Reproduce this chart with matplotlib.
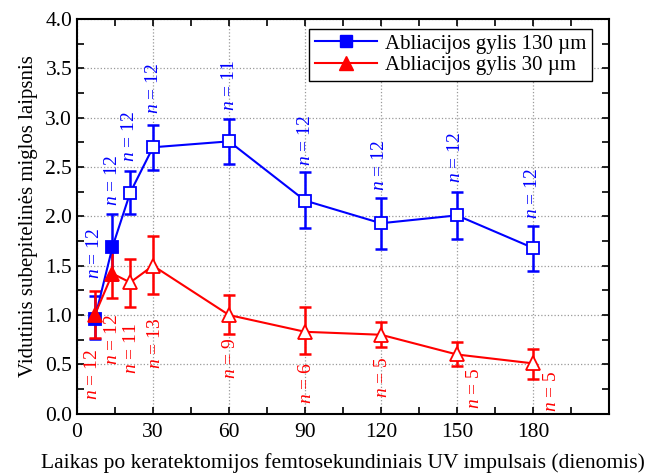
import matplotlib
matplotlib.use("Agg")
import matplotlib.pyplot as plt
from matplotlib.ticker import MultipleLocator

plt.rcParams['font.family'] = ['Liberation Serif', 'DejaVu Serif']
plt.rcParams['mathtext.fontset'] = 'custom'
plt.rcParams['mathtext.it'] = 'Liberation Serif:italic'
plt.rcParams['mathtext.rm'] = 'Liberation Serif'

days = [7, 14, 21, 30, 60, 90, 120, 150, 180]

blue_val = [0.96, 1.69, 2.24, 2.70, 2.76, 2.16, 1.93, 2.01, 1.68]
blue_lo = [0.76, 1.36, 2.02, 2.47, 2.53, 1.88, 1.67, 1.77, 1.45]
blue_hi = [1.19, 2.02, 2.46, 2.93, 2.99, 2.45, 2.19, 2.25, 1.90]
blue_n = [12, 12, 12, 12, 11, 12, 12, 12, 12]

red_val = [1.00, 1.42, 1.33, 1.50, 1.00, 0.83, 0.80, 0.60, 0.51]
red_lo = [0.77, 1.17, 1.08, 1.21, 0.81, 0.60, 0.68, 0.48, 0.35]
red_hi = [1.24, 1.65, 1.57, 1.80, 1.20, 1.08, 0.93, 0.73, 0.66]
red_n = [12, 12, 11, 13, 9, 6, 5, 5, 5]

# label anchor positions (data coords, center of rotated text)
blue_lab_x = [7, 14, 20.7, 30.1, 60.1, 90.0, 119.6, 149.6, 179.8]
blue_lab_y = [1.62, 2.36, 2.81, 3.30, 3.33, 2.77, 2.52, 2.60, 2.23]
red_lab_x = [6.3, 14.2, 21.6, 30.8, 60.4, 90.4, 120.6, 157.1, 187.4]
red_lab_y = [0.40, 0.75, 0.66, 0.71, 0.56, 0.31, 0.37, 0.255, 0.23]

filled_count = 2

fig = plt.figure(figsize=(6.53, 4.73), dpi=100)
ax = fig.add_axes([77/653, 1 - 413.7/473, (609-77)/653, (413.7-19)/473])

BLUE = '#0000ff'
RED = '#ff0000'

def draw(val, lo, hi, color, marker, ms, label):
    yerr = [[v - l for v, l in zip(val, lo)], [h - v for v, h in zip(val, hi)]]
    ax.errorbar(days, val, yerr=yerr, fmt='none', ecolor=color, elinewidth=1.8,
                capsize=4, capthick=1.8, zorder=3)
    ax.plot(days, val, '-', color=color, lw=1.5, zorder=4)
    ax.plot(days[filled_count:], val[filled_count:], linestyle='none', marker=marker,
            ms=ms, mfc='white', mec=color, mew=1.3, zorder=5)
    ax.plot(days[:filled_count], val[:filled_count], linestyle='none', marker=marker,
            ms=ms, mfc=color, mec=color, mew=1.3, zorder=5)
    h, = ax.plot([], [], '-', color=color, lw=1.5, marker=marker, ms=ms,
                 mfc=color, mec=color, label=label)
    return h

hb = draw(blue_val, blue_lo, blue_hi, BLUE, 's', 8, 'Abliacijos gylis 130 µm')
hr = draw(red_val, red_lo, red_hi, RED, '^', 10, 'Abliacijos gylis 30 µm')

for x, y, n in zip(blue_lab_x, blue_lab_y, blue_n):
    ax.text(x, y, r'$n$ = %d' % n, rotation=90, ha='center', va='center',
            color=BLUE, fontsize=14, zorder=6)
for x, y, n in zip(red_lab_x, red_lab_y, red_n):
    ax.text(x, y, r'$n$ = %d' % n, rotation=90, ha='center', va='center',
            color=RED, fontsize=14, zorder=6)

ax.set_xlim(0, 210)
ax.set_ylim(0, 4.0)
ax.set_xticks([0, 30, 60, 90, 120, 150, 180])
ax.xaxis.set_minor_locator(MultipleLocator(15))
ax.yaxis.set_major_locator(MultipleLocator(0.5))
ax.yaxis.set_minor_locator(MultipleLocator(0.25))
ax.yaxis.set_major_formatter(matplotlib.ticker.FormatStrFormatter('%.1f'))
ax.tick_params(which='both', direction='in', top=True, right=True, labelsize=15.5,
               width=1.2)
ax.tick_params(which='major', length=5)
ax.tick_params(which='minor', length=5)
ax.tick_params(axis='x', pad=7)
for s in ax.spines.values():
    s.set_linewidth(1.5)
ax.grid(True, which='major', linestyle=':', color='#999999', lw=0.9)
ax.set_axisbelow(True)

ax.set_xlabel('Laikas po keratektomijos femtosekundiniais UV impulsais (dienomis)',
              fontsize=15.5, labelpad=8)
ax.set_ylabel('Vidutinis subepitelinės miglos laipsnis', fontsize=15, labelpad=5)

leg = ax.legend(handles=[hb, hr], loc='upper right', bbox_to_anchor=(0.968, 0.975),
                fontsize=15, frameon=True, fancybox=False, edgecolor='black',
                framealpha=1, handlelength=3, borderpad=0.25, labelspacing=0.1,
                handletextpad=0.4, borderaxespad=0)
leg.get_frame().set_linewidth(1.0)

fig.savefig('out.png', dpi=100)
